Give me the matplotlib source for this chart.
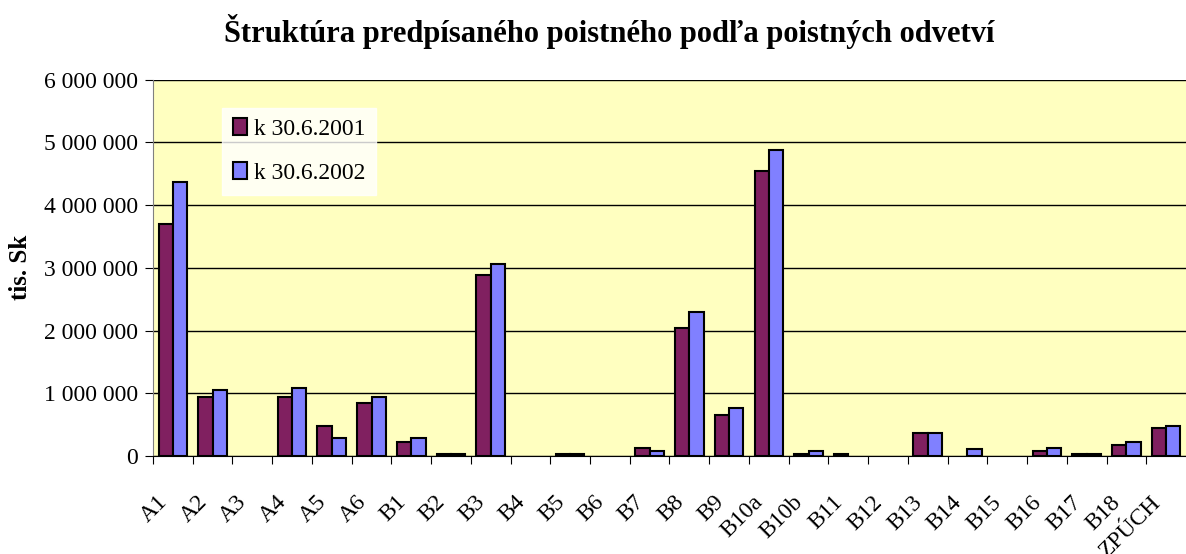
import matplotlib
matplotlib.use("Agg")
from matplotlib import pyplot as plt
import numpy as np

kategorie = ["A1", "A2", "A3", "A4", "A5", "A6", "B1", "B2", "B3", "B4", "B5", "B6", "B7",
             "B8", "B9", "B10a", "B10b", "B11", "B12", "B13", "B14", "B15", "B16", "B17",
             "B18", "ZPÚCH"]
# predpisane poistne v tis. Sk
k2001 = [3700000, 945000, 0, 945000, 470000, 840000, 220000, 30000, 2890000, 0, 30000, 0,
         120000, 2040000, 650000, 4550000, 30000, 30000, 0, 370000, 0, 0, 80000, 30000,
         180000, 440000]
k2002 = [4370000, 1050000, 0, 1090000, 290000, 945000, 290000, 30000, 3060000, 0, 30000, 0,
         80000, 2300000, 770000, 4880000, 80000, 0, 0, 370000, 110000, 0, 120000, 30000,
         230000, 470000]
y_ticky = [0, 1000000, 2000000, 3000000, 4000000, 5000000, 6000000]

plt.rcParams["font.family"] = ["Liberation Serif", "DejaVu Serif"]

fig = plt.figure(figsize=(11.86, 5.54), dpi=100)
ax = fig.add_axes([0.129, 0.177, 0.871, 0.679])
ax.set_facecolor("#FFFFC0")

x = np.arange(len(kategorie))
w = 0.36
# nulove hodnoty bez obrysu
ax.bar(x - w / 2, k2001, w, color="#802060", edgecolor="black",
       linewidth=[1.5 if v > 0 else 0 for v in k2001], label="k 30.6.2001", zorder=3)
ax.bar(x + w / 2, k2002, w, color="#8080FF", edgecolor="black",
       linewidth=[1.5 if v > 0 else 0 for v in k2002], label="k 30.6.2002", zorder=3)

ax.set_xlim(-0.5, len(kategorie) - 0.5)
ax.set_ylim(0, 6000000)
ax.set_yticks(y_ticky)
ax.set_yticklabels([f"{v:,}".replace(",", " ") for v in y_ticky], fontsize=17)
ax.yaxis.grid(True, color="black", linewidth=1, zorder=0)
ax.set_axisbelow(True)

# hlavne ticky na hraniciach kategorii, popisky na pomocnych (bez ciarky)
ax.set_xticks(x - 0.5, minor=False)
ax.set_xticklabels([])
ax.set_xticks(x - 0.22, minor=True)
ax.set_xticklabels(kategorie, minor=True, rotation=45, ha="right", va="center",
                   rotation_mode="anchor", fontsize=17)
ax.tick_params(axis="x", which="minor", length=0, pad=31)
ax.tick_params(axis="x", which="major", length=6, direction="out")
ax.tick_params(axis="y", length=6, direction="out", pad=5)

for s in ["top", "right"]:
    ax.spines[s].set_visible(False)
ax.spines["left"].set_color("#808080")
ax.spines["bottom"].set_color("black")

ax.set_ylabel("tis. Sk", fontsize=18, fontweight="bold", labelpad=8)
fig.suptitle("Štruktúra predpísaného poistného podľa poistných odvetví", fontsize=22,
             fontweight="bold", x=0.514, y=0.975)

leg = ax.legend(loc="upper left", bbox_to_anchor=(0.0668, 0.9255), borderaxespad=0,
                frameon=True, fontsize=17, handlelength=0.6, handleheight=0.7,
                handletextpad=0.3, labelspacing=0.95, borderpad=0.45, fancybox=False)
leg.get_frame().set_facecolor("white")
leg.get_frame().set_edgecolor("white")

fig.savefig("out.png", dpi=100)
